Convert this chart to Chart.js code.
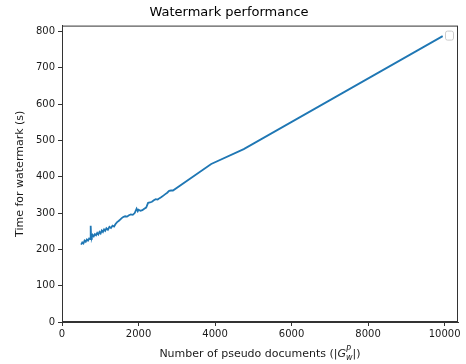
<!DOCTYPE html>
<html lang="en">
<head>
    <meta charset="UTF-8">
    <title>Watermark performance</title>
    <style>
        html, body { margin: 0; padding: 0; background: #fff; }
        #wrap { width: 466px; height: 364px; }
    </style>
</head>
<body>
    <div id="wrap"><canvas id="myChart" width="466" height="364"></canvas></div>

    <script src="https://cdn.jsdelivr.net/npm/chart.js@4.4.1/dist/chart.umd.min.js"></script>
    <script>
        // number of pseudo documents
        var docCounts = [500, 530, 560, 590, 620, 650, 680, 710, 740, 750, 760, 780, 800, 830, 860, 890,
            920, 950, 980, 1010, 1040, 1070, 1100, 1130, 1160, 1200, 1240, 1280, 1320, 1360, 1400,
            1440, 1480, 1520, 1560, 1600, 1650, 1700, 1750, 1800, 1850, 1900, 1950, 1980, 2000,
            2050, 2100, 2150, 2200, 2250, 2300, 2350, 2400, 2450, 2500, 2550, 2600, 2650, 2700,
            2750, 2800, 2850, 2900, 3900, 4750, 9950];
        // time for watermark (s)
        var watermarkTimes = [213, 219, 216, 224, 221, 227, 224, 230, 228, 265, 236, 233, 240, 236, 242, 239,
            245, 241, 248, 244, 252, 248, 255, 251, 258, 254, 262, 259, 265, 263, 270,
            275, 278, 282, 286, 289, 291, 290, 294, 296, 295, 300, 312, 305, 309,
            306, 308, 312, 315, 328, 329, 331, 335, 338, 337, 341, 344, 348, 352,
            356, 361, 362, 362, 435, 476, 787];
        var xTicks = [0, 2000, 4000, 6000, 8000, 10000];
        var yTicks = [0, 100, 200, 300, 400, 500, 600, 700, 800];

        var points = docCounts.map(function(x, i) { return { x: x, y: watermarkTimes[i] }; });

        var textColor = '#1a1a1a';
        var font = 'DejaVu Sans';

        // matplotlib style frame, empty legend box and math x label
        var framePlugin = {
            id: 'frame',
            afterDraw: function(chart) {
                var ctx = chart.ctx, a = chart.chartArea;
                ctx.save();
                ctx.strokeStyle = '#333';
                ctx.lineWidth = 1;
                ctx.strokeRect(a.left + 0.5, a.top + 0.5, a.right - a.left - 1, a.bottom - a.top - 1);

                // empty legend
                ctx.strokeStyle = '#ccc';
                ctx.fillStyle = 'rgba(255,255,255,0.8)';
                ctx.beginPath();
                ctx.roundRect(a.right - 12.5, a.top + 5.5, 8, 9, 2);
                ctx.fill();
                ctx.stroke();

                // x label with G_w^P
                var parts = [
                    { t: 'Number of pseudo documents (|', f: '11px "' + font + '"', dy: 0 },
                    { t: 'G', f: 'italic 11px "' + font + '"', dy: 0 },
                    { t: 'P', f: 'italic 8px "' + font + '"', dy: -5 },
                    { t: 'w', f: 'italic 8px "' + font + '"', dy: 3 },
                    { t: '|)', f: '11px "' + font + '"', dy: 0 }
                ];
                parts.forEach(function(p) {
                    ctx.font = p.f;
                    p.w = ctx.measureText(p.t).width;
                });
                var scriptW = Math.max(parts[2].w, parts[3].w);
                var total = parts[0].w + parts[1].w + scriptW + parts[4].w;
                var x = (a.left + a.right) / 2 - total / 2, y = 357;
                ctx.fillStyle = textColor;
                ctx.textBaseline = 'alphabetic';
                ctx.textAlign = 'left';
                var subX = 0;
                parts.forEach(function(p, i) {
                    ctx.font = p.f;
                    if (i === 2) subX = x;
                    if (i === 3) {
                        ctx.fillText(p.t, subX, y + p.dy);
                        x = subX + scriptW;
                        return;
                    }
                    ctx.fillText(p.t, x, y + p.dy);
                    if (i !== 2) x += p.w;
                });
                ctx.restore();
            }
        };

        function keepTicks(list) {
            return function(scale) {
                scale.ticks = list.map(function(v) { return { value: v }; });
            };
        }

        function createChart() {
            var ctx = document.getElementById('myChart').getContext('2d');
            new Chart(ctx, {
                type: 'line',
                data: {
                    datasets: [{
                        data: points,
                        borderColor: '#1f77b4',
                        borderWidth: 1.8,
                        pointRadius: 0,
                        tension: 0,
                        fill: false
                    }]
                },
                options: {
                    responsive: false,
                    animation: false,
                    layout: { padding: { left: 0, right: 8, top: 0, bottom: 0 } },
                    plugins: {
                        legend: { display: false },
                        tooltip: { enabled: false },
                        title: {
                            display: true,
                            text: 'Watermark performance',
                            color: '#000',
                            font: { family: font, size: 13, weight: 'normal' },
                            padding: { top: 5, bottom: 5 }
                        }
                    },
                    scales: {
                        x: {
                            type: 'linear',
                            min: 0,
                            max: 10350,
                            afterBuildTicks: keepTicks(xTicks),
                            afterFit: function(scale) { scale.height = 42; },
                            grid: { display: true, drawOnChartArea: false, drawTicks: true, tickLength: 4, color: '#333' },
                            border: { display: true, color: '#333' },
                            ticks: {
                                color: textColor,
                                font: { family: font, size: 10 },
                                padding: 2,
                                maxRotation: 0,
                                callback: function(v) { return String(v); }
                            },
                            title: { display: false }
                        },
                        y: {
                            min: 0,
                            max: 816,
                            afterBuildTicks: keepTicks(yTicks),
                            afterFit: function(scale) { scale.width = 62; },
                            grid: { display: true, drawOnChartArea: false, drawTicks: true, tickLength: 4, color: '#333' },
                            border: { display: true, color: '#333' },
                            ticks: {
                                color: textColor,
                                font: { family: font, size: 10 },
                                padding: 3,
                                callback: function(v) { return String(v); }
                            },
                            title: {
                                display: true,
                                text: 'Time for watermark (s)',
                                color: textColor,
                                font: { family: font, size: 11 },
                                padding: { top: 14, bottom: 0 }
                            }
                        }
                    }
                },
                plugins: [framePlugin]
            });
        }

        createChart();
    </script>
</body>
</html>
